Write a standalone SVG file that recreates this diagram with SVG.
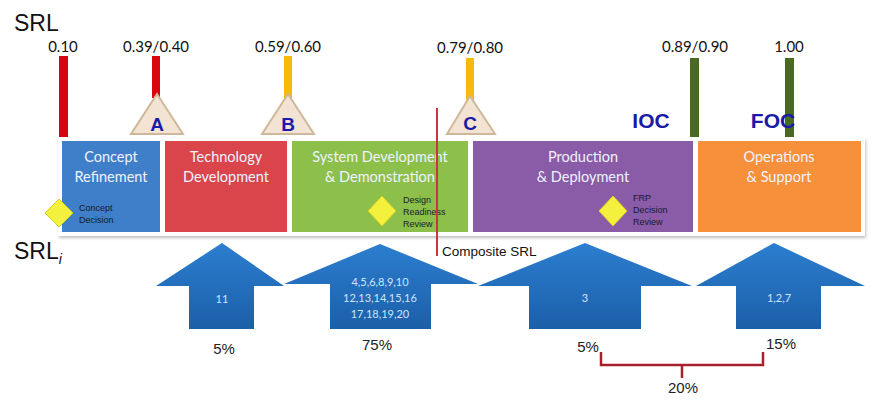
<svg xmlns="http://www.w3.org/2000/svg" width="880" height="403" viewBox="0 0 880 403">
<style>
.t{font-family:"Liberation Sans",Arial,sans-serif;fill:#111}
.num{font-family:Lato,"Liberation Sans",sans-serif;font-size:15px;fill:#111;text-anchor:middle}
.ph{font-family:Lato,"Open Sans",sans-serif;font-size:14.5px;fill:#eef3ff;text-anchor:middle}
.ms{font-family:"Liberation Sans",Arial,sans-serif;font-weight:bold;fill:#1a1aa8;text-anchor:middle}
.sm{font-family:"Liberation Sans",Arial,sans-serif;font-size:9px;fill:#1a1a2a}
.ar{font-family:Lato,"Open Sans",sans-serif;font-size:11px;fill:#cfe4ff;text-anchor:middle}
.pct{font-family:"Liberation Sans",Arial,sans-serif;font-size:15px;fill:#222;text-anchor:middle}
.tri{fill:#f2e3d2;stroke:#cfb89a;stroke-width:2}
.dia{fill:#f4f03e;stroke:#d8d020;stroke-width:1}
.arrow{fill:url(#ag)}
</style>
<defs>
<linearGradient id="ag" x1="0" y1="0" x2="0" y2="1">
<stop offset="0" stop-color="#2c7ed0"/>
<stop offset="1" stop-color="#1b5fa8"/>
</linearGradient>
<filter id="sh" x="-5%" y="-5%" width="110%" height="115%">
<feDropShadow dx="1" dy="2" stdDeviation="1.5" flood-color="#000" flood-opacity="0.25"/>
</filter>
</defs>
<rect width="880" height="403" fill="#fff"/>

<text class="t" x="14" y="31" font-size="23">SRL</text>
<text class="t" x="14" y="259" font-size="23">SRL<tspan font-size="14" font-style="italic" dy="5">i</tspan></text>

<g id="phases">
<rect x="58" y="138" width="807" height="98" fill="#fff" filter="url(#sh)"/>
<g id="concept"><rect x="62" y="141" width="98" height="91" fill="#3f7ec8"/>
<text class="ph" x="111" y="162">Concept</text><text class="ph" x="111" y="182">Refinement</text></g>
<g id="techdev"><rect x="165" y="141" width="122" height="91" fill="#d9454b"/>
<text class="ph" x="226" y="162">Technology</text><text class="ph" x="226" y="182">Development</text></g>
<g id="sdd"><rect x="292" y="141" width="176" height="91" fill="#8dbf4b"/>
<text class="ph" x="380" y="162">System Development</text><text class="ph" x="380" y="182">&amp; Demonstration</text></g>
<g id="prod"><rect x="473" y="141" width="220" height="91" fill="#8a5ba7"/>
<text class="ph" x="583" y="162">Production</text><text class="ph" x="583" y="182">&amp; Deployment</text></g>
<g id="ops"><rect x="698" y="141" width="163" height="91" fill="#f7903a"/>
<text class="ph" x="779" y="162">Operations</text><text class="ph" x="779" y="182">&amp; Support</text></g>
</g>

<g id="milestones">
<g id="srl010"><rect x="59" y="56" width="9" height="81" fill="#d8060c"/><text class="num" x="63" y="52">0.10</text></g>
<g id="srlA"><rect x="152" y="56" width="8" height="42" fill="#d8060c"/>
<polygon class="tri" points="157,94 131,134 183,134"/>
<text class="ms" x="157" y="131" font-size="19">A</text>
<text class="num" x="156" y="52">0.39/0.40</text></g>
<g id="srlB"><rect x="284" y="56" width="8" height="42" fill="#f7b90a"/>
<polygon class="tri" points="288,94 262,134 314,134"/>
<text class="ms" x="288" y="131" font-size="19">B</text>
<text class="num" x="288" y="52">0.59/0.60</text></g>
<g id="srlC"><rect x="466" y="58" width="8" height="42" fill="#f7b90a"/>
<polygon class="tri" points="470,96 447,134 495,134"/>
<text class="ms" x="470" y="130" font-size="19">C</text>
<text class="num" x="470" y="53">0.79/0.80</text></g>
<g id="srlIOC"><rect x="690" y="58" width="9" height="79" fill="#4a6a22"/>
<text class="ms" x="651" y="128" font-size="21">IOC</text>
<text class="num" x="695" y="52">0.89/0.90</text></g>
<g id="srlFOC"><rect x="785" y="58" width="9" height="79" fill="#4a6a22"/>
<text class="ms" x="773" y="128" font-size="21">FOC</text>
<text class="num" x="789" y="52">1.00</text></g>
</g>

<g id="decisions">
<g id="cd"><polygon class="dia" points="59,199 73,213 59,227 45,213"/>
<text class="sm" x="79" y="211">Concept</text><text class="sm" x="79" y="223">Decision</text></g>
<g id="drr"><polygon class="dia" points="382,196 396,211 382,226 368,211"/>
<text class="sm" x="403" y="203">Design</text><text class="sm" x="403" y="215">Readiness</text><text class="sm" x="403" y="227">Review</text></g>
<g id="frp"><polygon class="dia" points="613,196 627,211 613,226 599,211"/>
<text class="sm" x="633" y="201">FRP</text><text class="sm" x="633" y="213">Decision</text><text class="sm" x="633" y="225">Review</text></g>
</g>

<g id="composite">
<line x1="437" y1="108" x2="437" y2="256" stroke="#cc3340" stroke-width="2"/>
<text class="t" x="442" y="256" font-size="13.5">Composite SRL</text>
</g>

<g id="arrows">
<g id="a1"><polygon class="arrow" points="222,243 284,286 254,286 254,329 189,329 189,286 156,286"/>
<text class="ar" x="222" y="303">11</text><text class="pct" x="224" y="354">5%</text></g>
<g id="a2"><polygon class="arrow" points="380,244 478,284 431,284 431,329 330,329 330,284 284,284"/>
<text class="ar" x="380" y="286">4,5,6,8,9,10</text><text class="ar" x="380" y="302">12,13,14,15,16</text><text class="ar" x="380" y="318">17,18,19,20</text>
<text class="pct" x="377" y="350">75%</text></g>
<g id="a3"><polygon class="arrow" points="585,243 692,286 641,286 641,329 529,329 529,286 478,286"/>
<text class="ar" x="585" y="302">3</text><text class="pct" x="588" y="352">5%</text></g>
<g id="a4"><polygon class="arrow" points="774,243 865,286 821,286 821,329 736,329 736,286 696,286"/>
<text class="ar" x="779" y="302">1,2,7</text><text class="pct" x="781" y="349">15%</text></g>
</g>

<g id="brace">
<path d="M601,352 V365 H763 V352 M682,365 V378" fill="none" stroke="#a8202c" stroke-width="2.5"/>
<text class="pct" x="683" y="393">20%</text>
</g>
</svg>
